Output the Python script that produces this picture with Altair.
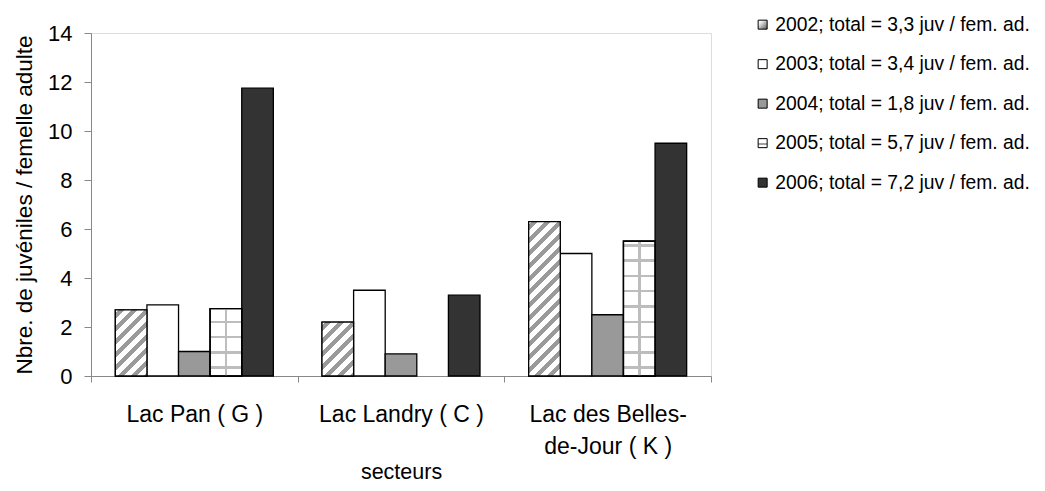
import altair as alt
import pandas as pd

# ---------------- data ----------------
SECTORS = ["Lac Pan ( G )", "Lac Landry ( C )", "Lac des Belles-de-Jour ( K )"]
LABEL_LINES = {"Lac des Belles-de-Jour ( K )": ["Lac des Belles-", "de-Jour ( K )"]}
YEARS = ["2002", "2003", "2004", "2005", "2006"]
SERIES = [
    "2002; total = 3,3 juv / fem. ad.",
    "2003; total = 3,4 juv / fem. ad.",
    "2004; total = 1,8 juv / fem. ad.",
    "2005; total = 5,7 juv / fem. ad.",
    "2006; total = 7,2 juv / fem. ad.",
]
V2002 = [2.7, 2.2, 6.3]
V2003 = [2.9, 3.5, 5.0]
V2004 = [1.0, 0.9, 2.5]
V2005 = [2.75, None, 5.5]
V2006 = [11.75, 3.3, 9.5]
Y_TICKS = [0, 2, 4, 6, 8, 10, 12, 14]

rows = []
for lab, vals in zip(SERIES, [V2002, V2003, V2004, V2005, V2006]):
    for s, v in zip(SECTORS, vals):
        if v is not None:
            rows.append({"sector": s, "series": lab, "value": v})
df = pd.DataFrame(rows)

# ---------------- layout ----------------
W, H = 620, 343
YMAX = 14
OFF_PAD = 0.77
BAR_W = (W / len(SECTORS)) / (len(SERIES) + 2 * OFF_PAD)
PX = H / YMAX
FONT = "Liberation Sans"

WHITE = "#ffffff"
HATCH = "#9a9a9a"
GRIDC = "#bdbdbd"


def hatch_gradient(v, period=13.0, gray=6.0):
    w, h = BAR_W, v * PX
    tot = w * w + h * h
    smax = w + h
    stops = [{"offset": 0, "color": WHITE}]
    k = 0
    while k * period < smax:
        s0, s1 = k * period + 3, k * period + 3 + gray
        t0, t1 = min(s0 * w / tot, 1), min(s1 * w / tot, 1)
        stops += [{"offset": t0, "color": WHITE}, {"offset": t0, "color": HATCH},
                  {"offset": t1, "color": HATCH}, {"offset": t1, "color": WHITE}]
        k += 1
    return {"gradient": "linear", "x1": 0, "y1": 0, "x2": 1, "y2": h / w, "stops": stops}


def hline_gradient(v, first=8.3, step=15.3, lw=2.5):
    h = v * PX
    stops = [{"offset": 0, "color": WHITE}]
    d = first
    marks = []
    while d < h - 2:
        marks.append(d)
        d += step
    for d in reversed(marks):
        t0 = max((h - d - lw / 2) / h, 0)
        t1 = min((h - d + lw / 2) / h, 1)
        stops += [{"offset": t0, "color": WHITE}, {"offset": t0, "color": GRIDC},
                  {"offset": t1, "color": GRIDC}, {"offset": t1, "color": WHITE}]
    stops.append({"offset": 1, "color": WHITE})
    return {"gradient": "linear", "x1": 0, "y1": 0, "x2": 0, "y2": 1, "stops": stops}


VLINE = {"gradient": "linear", "x1": 0, "y1": 0, "x2": 1, "y2": 0, "stops": [
    {"offset": 0, "color": "rgba(255,255,255,0)"},
    {"offset": 0.46, "color": "rgba(255,255,255,0)"},
    {"offset": 0.46, "color": GRIDC},
    {"offset": 0.54, "color": GRIDC},
    {"offset": 0.54, "color": "rgba(255,255,255,0)"},
    {"offset": 1, "color": "rgba(255,255,255,0)"},
]}

FILL_RANGE = [
    {"expr": "{gradient: 'linear', x1: 0, y1: 0, x2: 1, y2: 1, stops: [{offset: 0, color: '#ffffff'}, {offset: 0.25, color: '#f0f0f0'}, {offset: 1, color: '#555555'}]}"},
    "#ffffff",
    "#999999",
    {"expr": "{gradient: 'linear', x1: 0, y1: 0, x2: 0, y2: 1, stops: [{offset: 0, color: '#ffffff'}, {offset: 0.5, color: '#ffffff'}, {offset: 0.5, color: '#a0a0a0'}, {offset: 0.68, color: '#a0a0a0'}, {offset: 0.68, color: '#ffffff'}, {offset: 1, color: '#ffffff'}]}"},
    "#333333",
]

label_expr = " : ".join(
    [f"datum.value == '{k}' ? {v!r}" for k, v in LABEL_LINES.items()] + ["datum.value"]
)

x_enc = alt.X(
    "sector:N",
    scale=alt.Scale(domain=SECTORS, paddingInner=0, paddingOuter=0),
    axis=alt.Axis(
        title="secteurs", labelAngle=0, tickBand="extent", labelExpr=label_expr,
        labelLineHeight=32, labelPadding=21, tickSize=6, labelFontSize=23,
        titleFontSize=21.5, titleFontWeight="normal", titleY=96, titleBaseline="middle",
        labelLimit=0,
    ),
)
xo_enc = alt.XOffset("series:N", scale=alt.Scale(domain=SERIES, paddingInner=0, paddingOuter=OFF_PAD))
y_enc = alt.Y(
    "value:Q",
    scale=alt.Scale(domain=[0, YMAX], nice=False),
    axis=alt.Axis(
        title="Nbre. de juvéniles / femelle adulte", values=Y_TICKS, grid=False,
        tickSize=7, labelPadding=12, labelFontSize=22, titleFontSize=22.5,
        titleFontWeight="normal", titleX=-67, titleY=H / 2, titleAngle=270,
        titleAlign="center", titleBaseline="middle",
    ),
)

base = alt.Chart(df).mark_bar(stroke="black", strokeWidth=1.3).encode(
    x=x_enc, xOffset=xo_enc, y=y_enc,
    fill=alt.Fill(
        "series:N",
        scale=alt.Scale(domain=SERIES, range=FILL_RANGE),
        legend=alt.Legend(
            title=None, orient="none", legendX=662, legendY=-18,
            symbolType="square", symbolSize=81, symbolStrokeColor="black",
            symbolStrokeWidth=1, symbolOpacity=1, labelFontSize=19.3, labelFont=FONT,
            labelOffset=3, rowPadding=19.5, labelLimit=0, padding=0,
        ),
    ),
)

layers = [base]
# diagonal hatching for 2002
for s, v in zip(SECTORS, V2002):
    if v is None:
        continue
    layers.append(
        alt.Chart(df).transform_filter(
            (alt.datum.sector == s) & (alt.datum.series == SERIES[0])
        ).mark_bar(fill=hatch_gradient(v), stroke="black", strokeWidth=1.3)
        .encode(x=x_enc, xOffset=xo_enc, y=y_enc)
    )
# grid pattern for 2005
for s, v in zip(SECTORS, V2005):
    if v is None:
        continue
    layers.append(
        alt.Chart(df).transform_filter(
            (alt.datum.sector == s) & (alt.datum.series == SERIES[3])
        ).mark_bar(fill=hline_gradient(v), stroke="black", strokeWidth=1.3)
        .encode(x=x_enc, xOffset=xo_enc, y=y_enc)
    )
layers.append(
    alt.Chart(df).transform_filter(alt.datum.series == SERIES[3])
    .mark_bar(fill=VLINE, stroke="black", strokeWidth=1.3)
    .encode(x=x_enc, xOffset=xo_enc, y=y_enc)
)

chart = alt.layer(*layers).properties(
    width=W, height=H,
    autosize=alt.AutoSizeParams(type="none"),
    padding={"left": 83, "top": 25, "right": 326, "bottom": 107},
).configure_view(stroke=None).configure_axis(
    domainColor="black", tickColor="black", labelColor="black", titleColor="black",
    labelFont=FONT, titleFont=FONT, domainWidth=1, tickWidth=1,
).configure(background="white")

chart.save("out.html", embed_options={"renderer": "svg", "actions": False})
